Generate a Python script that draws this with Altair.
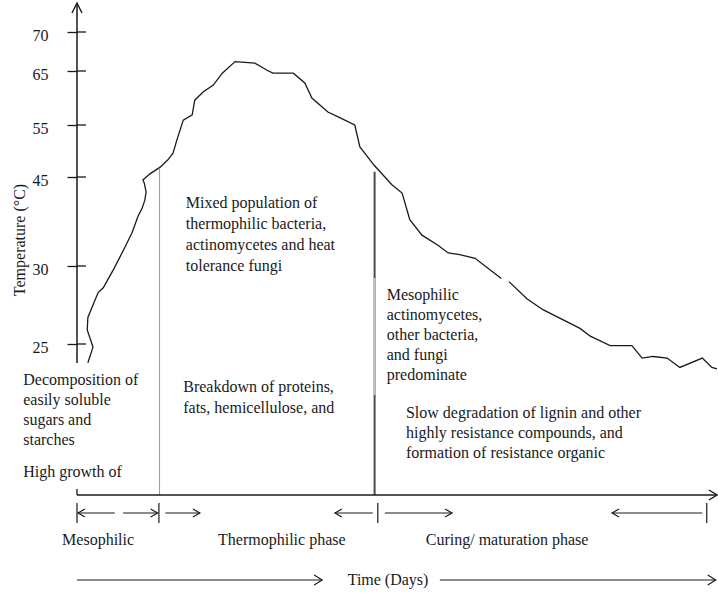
import altair as alt
import pandas as pd

SERIF = "Liberation Serif"
INK = "#1a1a1a"

# Pile temperature profile: time along the axis (0-100) and temperature (°C)
curve_day = [1.7, 2.5, 1.6, 1.7, 3.3, 4.1, 5.6, 6.7, 7.5, 8.6,
             9.5, 10.2, 10.6, 10.8, 10.5, 10.3, 11.4, 13.0, 14.2, 15.0,
             15.6, 16.6, 18.0, 18.4, 19.7, 21.3, 22.7, 24.7, 27.8, 29.7,
             30.6, 33.8, 35.6, 36.7, 39.2, 40.8, 43.4, 44.2, 45.2, 46.4,
             49.2, 50.8, 52.0, 53.9, 56.4, 58.0, 59.8, 62.2, 66.3,
             67.5, 70.3, 72.8, 78.6, 80.2, 83.3, 86.7, 88.3, 90.0, 92.2,
             94.2, 97.7, 99.2, 100.0]
curve_temp = [23.8, 24.8, 25.9, 26.7, 28.3, 28.6, 29.7, 31.5, 33.2, 35.6,
              38.3, 39.8, 41.1, 42.5, 44.0, 44.5, 45.6, 46.9, 48.3, 49.6,
              52.1, 55.9, 56.9, 59.6, 61.1, 62.4, 64.6, 66.2, 66.0, 65.1,
              64.6, 64.6, 62.8, 60.0, 57.4, 56.5, 55.0, 50.8, 49.2, 47.3,
              43.7, 42.3, 37.8, 35.2, 33.5, 32.2, 31.9, 31.3, 29.2,
              29.0, 27.9, 27.2, 26.0, 25.5, 24.9, 24.9, 24.1, 24.2, 24.1,
              23.5, 24.1, 23.5, 23.4]
curve_segment = [0] * 49 + [1] * 14

temp_ticks = [25, 30, 45, 55, 65, 70]

# Phase boundaries (day) and the temperature where each boundary meets the curve
boundary_day = [12.9, 46.5]
boundary_temp = [46.7, 46.0]

# Phase span arrows below the time axis
arrow_from = [5.9, 7.2, 13.8, 46.2, 48.1, 97.7]
arrow_to = [0.15, 12.6, 19.2, 40.3, 58.6, 83.6]
phase_bar_day = [0.0, 12.8, 47.0, 98.4]
phase_names = ["Mesophilic", "Thermophilic phase", "Curing/ maturation phase"]
phase_name_day = [3.3, 32.0, 67.2]

# "Time (Days)" arrows
time_from = [0.0, 56.7]
time_to = [38.3, 99.8]

HEAD_R = "M-1.75,-1L0,0L-1.75,1"
HEAD_L = "M1.75,-1L0,0L1.75,1"
AXIS_HEAD_R = "M-1.6,-1L0,0L-1.6,1"
AXIS_HEAD_UP = "M-1,2L0,0L1,2"

xs = alt.Scale(domain=[0, 100], range=[0, 640], nice=False, zero=False)
ys = alt.Scale(domain=[25, 30, 45, 55, 65, 70],
               range=[344, 266, 177, 125, 71, 32], nice=False, zero=False)

curve_df = pd.DataFrame({"day": curve_day, "temp": curve_temp,
                         "seg": curve_segment, "i": range(len(curve_day))})
one = pd.DataFrame({"k": [0]})

curve = alt.Chart(curve_df).mark_line(color=INK, strokeWidth=1.3).encode(
    x=alt.X("day:Q", scale=xs, axis=None),
    y=alt.Y("temp:Q", scale=ys, axis=alt.Axis(
        values=temp_ticks, domain=False, grid=False, ticks=True, tickSize=10,
        tickColor=INK, tickWidth=1.3, labelFont=SERIF, labelFontSize=16,
        labelColor=INK, labelPadding=19, labelOffset=3, title=None)),
    detail="seg:N",
    order="i:Q",
)

# inner halves of the temperature ticks
inner_ticks = alt.Chart(pd.DataFrame({"t": temp_ticks})).mark_rule(
    color=INK, strokeWidth=1.3).encode(
    x=alt.value(0), x2=alt.value(9), y=alt.Y("t:Q", scale=ys))

y_line = alt.Chart(one).mark_rule(color=INK, strokeWidth=1.5).encode(
    x=alt.value(0), y=alt.value(3), y2=alt.value(363))
y_head = alt.Chart(one).mark_point(shape=AXIS_HEAD_UP, size=100, filled=False,
                                   color=INK, strokeWidth=1.4, opacity=1).encode(
    x=alt.value(0), y=alt.value(3))
y_title = alt.Chart(one).mark_text(text="Temperature (°C)", angle=270, font=SERIF,
                                   fontSize=16, color=INK, align="center",
                                   baseline="middle").encode(
    x=alt.value(-57), y=alt.value(240))

# time axis
t_line = alt.Chart(one).mark_rule(color=INK, strokeWidth=1.5).encode(
    x=alt.datum(0, scale=xs), x2=alt.datum(100), y=alt.value(495))
t_hook = alt.Chart(one).mark_rule(color=INK, strokeWidth=1.3).encode(
    x=alt.datum(0, scale=xs), y=alt.value(489), y2=alt.value(495))
t_head = alt.Chart(one).mark_point(shape=AXIS_HEAD_R, size=100, filled=False,
                                   color=INK, strokeWidth=1.4, opacity=1).encode(
    x=alt.datum(100, scale=xs), y=alt.value(495))

# phase boundaries
bd = pd.DataFrame({"d": boundary_day, "t": boundary_temp})
b1 = alt.Chart(bd.iloc[[0]]).mark_rule(color="#9a9a9a", strokeWidth=1).encode(
    x=alt.X("d:Q", scale=xs), y=alt.Y("t:Q", scale=ys), y2=alt.value(495))
b2 = alt.Chart(bd.iloc[[1]]).mark_rule(color="#4a4a4a", strokeWidth=2).encode(
    x=alt.X("d:Q", scale=xs), y=alt.Y("t:Q", scale=ys), y2=alt.value(495))
b2_light = alt.Chart(bd.iloc[[1]]).mark_rule(color="#c4c4c4", strokeWidth=2).encode(
    x=alt.X("d:Q", scale=xs), y=alt.value(278), y2=alt.value(395))

# phase span arrows
arrows = pd.DataFrame({"a": arrow_from, "b": arrow_to})
arrows["dir"] = ["r" if b > a else "l" for a, b in zip(arrow_from, arrow_to)]
head_shape = alt.Shape("dir:N", scale=alt.Scale(domain=["r", "l"],
                                                range=[HEAD_R, HEAD_L]), legend=None)
ph_shafts = alt.Chart(arrows).mark_rule(color=INK, strokeWidth=1.2).encode(
    x=alt.X("a:Q", scale=xs), x2="b:Q", y=alt.value(513))
ph_heads = alt.Chart(arrows).mark_point(size=64, filled=False, color=INK,
                                         strokeWidth=1.2, opacity=1).encode(
    x=alt.X("b:Q", scale=xs), y=alt.value(513), shape=head_shape)
ph_bars = alt.Chart(pd.DataFrame({"d": phase_bar_day})).mark_rule(
    color=INK, strokeWidth=1.2).encode(
    x=alt.X("d:Q", scale=xs), y=alt.value(503), y2=alt.value(523))
ph_names = alt.Chart(pd.DataFrame({"d": phase_name_day, "n": phase_names})).mark_text(
    font=SERIF, fontSize=16, color=INK, align="center", baseline="alphabetic").encode(
    x=alt.X("d:Q", scale=xs), y=alt.value(545), text="n:N")

# time arrows
tdf = pd.DataFrame({"a": time_from, "b": time_to})
t_shafts = alt.Chart(tdf).mark_rule(color=INK, strokeWidth=1.2).encode(
    x=alt.X("a:Q", scale=xs), x2="b:Q", y=alt.value(580))
t_heads = alt.Chart(tdf).mark_point(shape=AXIS_HEAD_R, size=100, filled=False,
                                     color=INK, strokeWidth=1.2, opacity=1).encode(
    x=alt.X("b:Q", scale=xs), y=alt.value(580))
t_label = alt.Chart(one).mark_text(text="Time (Days)", font=SERIF, fontSize=16,
                                   color=INK, align="center",
                                   baseline="alphabetic").encode(
    x=alt.datum(48.6, scale=xs), y=alt.value(585))


def note(lines, day, y, lh=20):
    return alt.Chart(one).mark_text(
        text=lines, font=SERIF, fontSize=16, lineHeight=lh, color=INK,
        align="left", baseline="alphabetic").encode(
        x=alt.datum(day, scale=xs), y=alt.value(y))


notes = [
    note(["Decomposition of", "easily soluble", "sugars and", "starches"], -8.4, 385),
    note(["High growth of"], -8.4, 477),
    note(["Mixed population of", "thermophilic bacteria,",
          "actinomycetes and heat", "tolerance fungi"], 17.0, 208, lh=21),
    note(["Breakdown of proteins,", "fats, hemicellulose, and"], 16.6, 392, lh=21),
    note(["Mesophilic", "actinomycetes,", "other bacteria,", "and fungi",
          "predominate"], 48.4, 300),
    note(["Slow degradation of lignin and other", "highly resistance compounds, and",
          "formation of resistance organic"], 51.4, 418),
]

chart = alt.layer(
    curve, inner_ticks, y_line, y_head, y_title,
    b1, b2, b2_light,
    t_line, t_hook, t_head,
    ph_shafts, ph_heads, ph_bars, ph_names,
    t_shafts, t_heads, t_label,
    *notes,
).properties(
    width=640, height=593,
    padding={"left": 77, "top": 0, "right": 1, "bottom": 0},
    autosize=alt.AutoSizeParams(type="none"),
    background="white",
).configure_view(stroke=None)

chart.save("out.html", embed_options={"renderer": "svg", "actions": False})
